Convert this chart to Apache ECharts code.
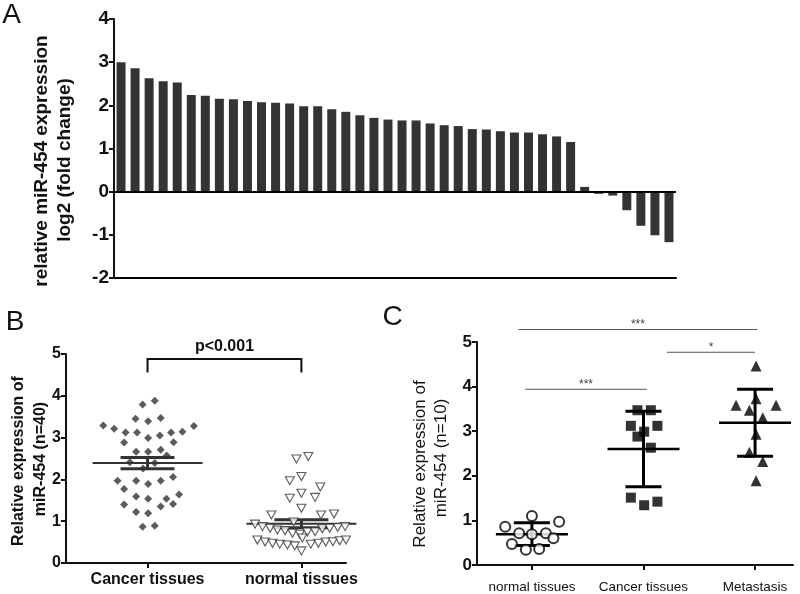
<!DOCTYPE html>
<html><head><meta charset="utf-8">
<script src="https://cdn.jsdelivr.net/npm/echarts@6/dist/echarts.min.js"></script>
<style>html,body{margin:0;padding:0;background:#fff}#c{width:800px;height:594px}</style>
</head><body><div id="c"></div>
<script>
const FONT = '"Liberation Sans", Arial, sans-serif';

// ---------- Panel A ----------
const foldChange = [3.00,2.86,2.63,2.56,2.53,2.24,2.22,2.15,2.14,2.10,2.07,2.06,2.04,1.98,1.98,1.91,1.85,1.77,1.71,1.67,
  1.65,1.65,1.58,1.54,1.52,1.45,1.44,1.40,1.37,1.37,1.33,1.28,1.15,0.11,-0.05,-0.09,-0.43,-0.79,-1.01,-1.17];
const sampleIds = foldChange.map((_, i) => 'S' + (i + 1));
const ticksA = [-2, -1, 0, 1, 2, 3, 4];

// ---------- Panel B ----------
const groupsB = ['Cancer tissues', 'normal tissues'];
const cancerB = [[0.968,3.79],[1.047,3.88],[0.922,3.45],[1.004,3.39],[1.086,3.47],[0.712,3.29],[0.783,3.21],[0.857,3.12],
  [0.932,3.12],[1.004,2.99],[1.080,3.05],[1.153,3.12],[1.227,3.14],[1.301,3.28],[0.848,2.88],[1.169,2.89],[0.926,2.66],
  [1.004,2.66],[1.086,2.71],[0.885,2.41],[0.971,2.26],[1.047,2.39],[1.125,2.57],[0.805,1.97],[0.848,1.77],[0.926,1.97],
  [1.004,1.89],[1.086,1.97],[1.166,2.06],[0.926,1.59],[1.004,1.54],[1.123,1.54],[1.205,1.64],[0.848,1.40],[0.926,1.22],
  [1.004,1.19],[1.086,1.35],[1.166,1.41],[0.968,0.87],[1.047,0.89]];
const normalB = [[1.968,2.49],[2.045,2.55],[1.925,1.97],[2.0,2.07],[1.925,1.55],[2.0,1.67],[2.089,1.57],[2.123,1.82],
  [2.0,1.31],[1.805,1.15],[2.128,1.15],[2.212,1.17],
  [1.699,0.93],[1.747,0.87],[1.797,0.83],[1.844,0.79],[1.894,0.77],[1.942,0.71],[1.990,0.69],[2.039,0.74],[2.089,0.75],
  [2.136,0.82],[2.184,0.83],[2.236,0.85],[2.284,0.87],
  [1.714,0.55],[1.764,0.50],[1.812,0.47],[1.860,0.45],[1.909,0.43],[1.957,0.41],[2.006,0.60],[2.061,0.45],[2.110,0.47],
  [2.158,0.50],[2.205,0.51],[2.249,0.53],[2.290,0.55],[2.0,0.29],[1.95,0.98]];
const meanB = [2.39, 0.94];
const semB = [0.135, 0.095];
const bracketB = [[1, 2, 4.88, 4.56]];
const pTextB = 'p<0.001';

// ---------- Panel C ----------
const groupsC = ['normal tissues', 'Cancer tissues', 'Metastasis'];
const normalC = [[1.0,1.10],[0.761,0.86],[1.244,0.97],[0.886,0.71],[1.0,0.69],[1.125,0.71],[1.193,0.60],[0.821,0.47],[0.946,0.34],[1.065,0.36]];
const cancerC = [[1.946,3.47],[2.066,3.47],[1.887,3.12],[2.125,3.12],[2.006,2.99],[1.946,2.88],[2.066,2.63],[1.887,1.51],[2.006,1.34],[2.125,1.42]];
const metaC = [[3.009,4.46],[2.83,3.58],[3.188,3.58],[3.009,3.73],[2.949,3.47],[3.069,3.30],[3.009,2.93],[2.949,2.53],[3.069,2.32],[3.009,1.89]];
const meanC = [0.69, 2.60, 3.19];
const sdC = [0.255, 0.845, 0.75];
const sigC = [[0.88, 3.02, 5.28], [2.21, 3.0, 4.77], [0.94, 2.03, 3.94]];
const sigTextC = ['***', '*', '***'];

function meanErr(halfMean, halfCap, lwMean, lwBar, color) {
  return function (params, api) {
    const x = api.value(0), m = api.value(1), e = api.value(2);
    const c = api.coord([x, m]), t = api.coord([x, m + e]), b = api.coord([x, m - e]);
    const st = w => ({ stroke: color, lineWidth: w });
    return { type: 'group', children: [
      { type: 'line', shape: { x1: c[0] - halfMean, y1: c[1], x2: c[0] + halfMean, y2: c[1] }, style: st(lwMean) },
      { type: 'line', shape: { x1: c[0], y1: t[1], x2: c[0], y2: b[1] }, style: st(lwBar) },
      { type: 'line', shape: { x1: c[0] - halfCap, y1: t[1], x2: c[0] + halfCap, y2: t[1] }, style: st(lwBar) },
      { type: 'line', shape: { x1: c[0] - halfCap, y1: b[1], x2: c[0] + halfCap, y2: b[1] }, style: st(lwBar) }
    ]};
  };
}

function valueX(grid, min, max, ticks, names, labelStyle, margin) {
  return {
    type: 'value', gridIndex: grid, min: min, max: max, splitLine: { show: false },
    axisLine: { onZero: false, lineStyle: { color: '#111', width: 2 } },
    axisTick: { customValues: ticks, length: 5, lineStyle: { color: '#111', width: 2 } },
    axisLabel: Object.assign({ customValues: ticks, margin: margin, color: '#111', fontFamily: FONT,
      formatter: v => names[Math.round(v) - 1] }, labelStyle)
  };
}
function valueY(grid, min, max, size) {
  return {
    type: 'value', gridIndex: grid, min: min, max: max, interval: 1, splitLine: { show: false },
    axisLine: { show: true, onZero: false, lineStyle: { color: '#111', width: 2 } },
    axisTick: { show: true, length: 5, lineStyle: { color: '#111', width: 2 } },
    axisLabel: { color: '#111', fontFamily: FONT, fontWeight: 'bold', fontSize: size, margin: 5 }
  };
}

const chart = echarts.init(document.getElementById('c'), null, { renderer: 'canvas' });
const txt = (text, x, y, font, rot) => ({ type: 'text', x: x, y: y, rotation: rot || 0,
  style: { text: text, font: font, fill: '#111', align: 'center', verticalAlign: 'middle' } });

chart.setOption({
  animation: false,
  backgroundColor: '#fff',
  grid: [
    { left: 114, top: 19, width: 562, height: 259 },
    { left: 66, top: 354, width: 280, height: 209 },
    { left: 477, top: 342, width: 316, height: 224 }
  ],
  xAxis: [
    { type: 'category', gridIndex: 0, data: sampleIds,
      axisLine: { onZero: false, lineStyle: { color: '#000', width: 2 } },
      axisTick: { show: false }, axisLabel: { show: false } },
    valueX(1, 0.47, 2.29, [1, 2], groupsB, { fontWeight: 'bold', fontSize: 16 }, 9),
    valueX(2, 0.508, 3.34, [1, 2, 3], groupsC, { fontWeight: 'normal', fontSize: 13.5 }, 15)
  ],
  yAxis: [
    valueY(0, ticksA[0], ticksA[ticksA.length - 1], 19),
    valueY(1, 0, 5, 16),
    valueY(2, 0, 5, 17)
  ],
  series: [
    { type: 'bar', xAxisIndex: 0, yAxisIndex: 0, data: foldChange, barCategoryGap: '36%',
      itemStyle: { color: '#333' },
      markLine: { silent: true, symbol: 'none', label: { show: false },
        lineStyle: { color: '#000', width: 2, type: 'solid' }, data: [{ yAxis: 0 }] } },
    { type: 'scatter', xAxisIndex: 1, yAxisIndex: 1, data: cancerB, symbol: 'diamond', symbolSize: 8,
      itemStyle: { color: '#333' }, clip: false },
    { type: 'scatter', xAxisIndex: 1, yAxisIndex: 1, data: normalB, symbol: 'triangle', symbolRotate: 180,
      symbolSize: [9, 8], itemStyle: { color: '#fff', borderColor: '#333', borderWidth: 1.1 }, clip: false },
    { type: 'custom', xAxisIndex: 1, yAxisIndex: 1, clip: false,
      data: meanB.map((m, i) => [i + 1, m, semB[i]]), renderItem: meanErr(55, 27, 2, 3, '#333') },
    { type: 'custom', xAxisIndex: 1, yAxisIndex: 1, clip: false, data: bracketB,
      encode: { x: [0, 1], y: [2, 3] },
      renderItem: function (params, api) {
        const a = api.coord([api.value(0), api.value(3)]), b = api.coord([api.value(0), api.value(2)]);
        const c = api.coord([api.value(1), api.value(2)]), d = api.coord([api.value(1), api.value(3)]);
        return { type: 'group', children: [
          { type: 'polyline', shape: { points: [a, b, c, d] }, style: { stroke: '#111', lineWidth: 2, fill: null } },
          { type: 'text', x: (b[0] + c[0]) / 2, y: b[1] - 4,
            style: { text: pTextB, font: 'bold 16px ' + FONT, fill: '#111', align: 'center', verticalAlign: 'bottom' } }
        ]};
      } },
    { type: 'scatter', xAxisIndex: 2, yAxisIndex: 2, data: normalC, symbol: 'circle', symbolSize: 10,
      itemStyle: { color: '#fff', borderColor: '#000', borderWidth: 2 }, clip: false },
    { type: 'scatter', xAxisIndex: 2, yAxisIndex: 2, data: cancerC, symbol: 'rect', symbolSize: 10,
      itemStyle: { color: '#000' }, clip: false },
    { type: 'scatter', xAxisIndex: 2, yAxisIndex: 2, data: metaC, symbol: 'triangle', symbolSize: 11,
      itemStyle: { color: '#000' }, clip: false },
    { type: 'custom', xAxisIndex: 2, yAxisIndex: 2, clip: false,
      data: meanC.map((m, i) => [i + 1, m, sdC[i]]), renderItem: meanErr(36, 18, 2.5, 3, '#000') },
    { type: 'custom', xAxisIndex: 2, yAxisIndex: 2, clip: false, data: sigC,
      encode: { x: [0, 1], y: 2 },
      renderItem: function (params, api) {
        const a = api.coord([api.value(0), api.value(2)]), b = api.coord([api.value(1), api.value(2)]);
        return { type: 'group', children: [
          { type: 'line', shape: { x1: a[0], y1: a[1], x2: b[0], y2: b[1] }, style: { stroke: '#555', lineWidth: 1 } },
          { type: 'text', x: (a[0] + b[0]) / 2, y: a[1] + 1,
            style: { text: sigTextC[params.dataIndex], font: '12px ' + FONT, fill: '#444', align: 'center', verticalAlign: 'bottom' } }
        ]};
      } }
  ],
  graphic: [
    txt('A', 11.5, 15, '28px ' + FONT),
    txt('B', 15, 322, '28px ' + FONT),
    txt('C', 392.5, 317.5, '28px ' + FONT),
    txt('relative miR-454 expression', 41.5, 161, 'bold 19px ' + FONT, Math.PI / 2),
    txt('log2 (fold change)', 64.5, 160, 'bold 19px ' + FONT, Math.PI / 2),
    txt('Relative expression of', 19, 461, 'bold 16px ' + FONT, Math.PI / 2),
    txt('miR-454 (n=40)', 41, 459, 'bold 16px ' + FONT, Math.PI / 2),
    txt('Relative expression of', 420, 464, '17px ' + FONT, Math.PI / 2),
    txt('miR-454 (n=10)', 441.7, 458, '17px ' + FONT, Math.PI / 2)
  ]
});
</script>
</body></html>
